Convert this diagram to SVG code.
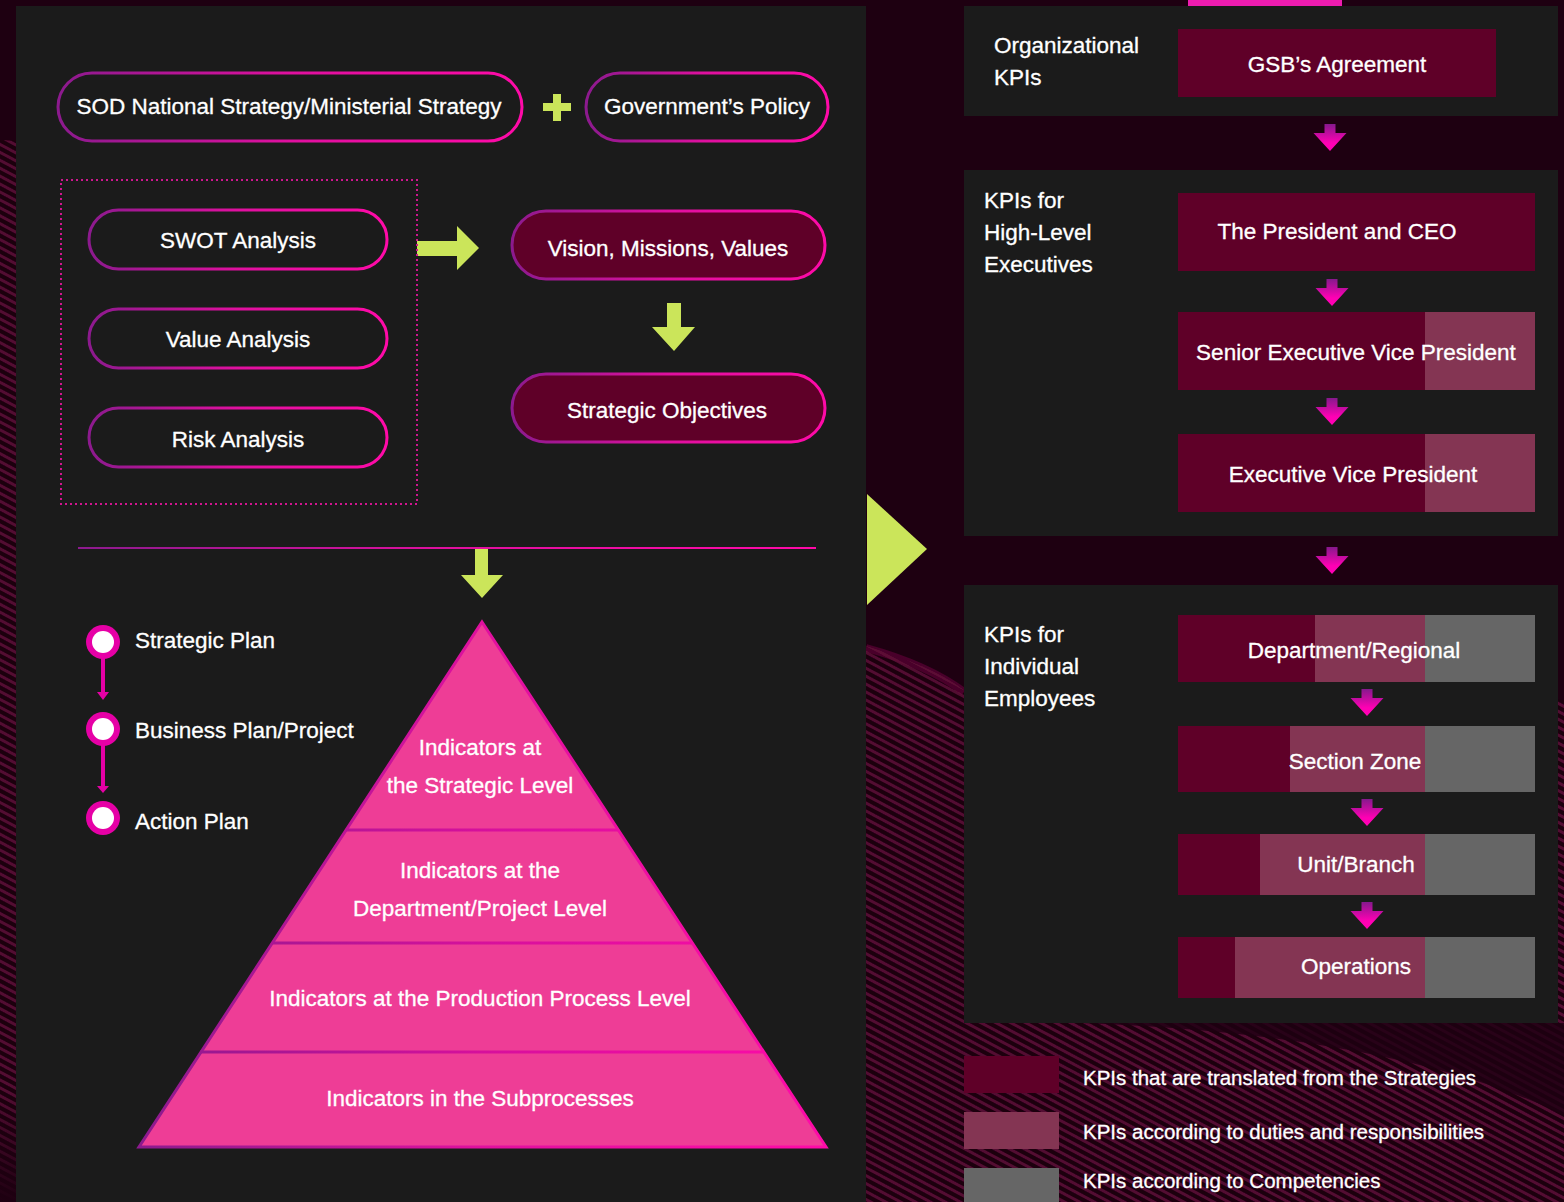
<svg xmlns="http://www.w3.org/2000/svg" width="1564" height="1202" viewBox="0 0 1564 1202">
  <defs>
    <linearGradient id="rim" x1="0" y1="0" x2="1" y2="0">
      <stop offset="0" stop-color="#8c1a8e"/>
      <stop offset="0.5" stop-color="#e0109f"/>
      <stop offset="1" stop-color="#ff0aa8"/>
    </linearGradient>
    <linearGradient id="rule" gradientUnits="userSpaceOnUse" x1="78" y1="0" x2="816" y2="0">
      <stop offset="0" stop-color="#8c1a8e"/>
      <stop offset="0.5" stop-color="#e0109f"/>
      <stop offset="1" stop-color="#ff0aa8"/>
    </linearGradient>
    <linearGradient id="tier" gradientUnits="userSpaceOnUse" x1="139" y1="0" x2="826" y2="0">
      <stop offset="0" stop-color="#8c1a8e"/>
      <stop offset="0.5" stop-color="#d6109c"/>
      <stop offset="1" stop-color="#ff0aa8"/>
    </linearGradient>
    <linearGradient id="drop" x1="0" y1="0" x2="0" y2="1">
      <stop offset="0" stop-color="#85198c"/>
      <stop offset="0.7" stop-color="#ff00b4"/>
    </linearGradient>
    <linearGradient id="fadeDown" x1="0" y1="0" x2="0" y2="1">
      <stop offset="0" stop-color="#1e0011" stop-opacity="0"/>
      <stop offset="1" stop-color="#1e0011" stop-opacity="1"/>
    </linearGradient>
    <pattern id="weave" patternUnits="userSpaceOnUse" width="7" height="7" patternTransform="rotate(28)">
      <rect width="7" height="7" fill="#1c0010"/>
      <rect width="7" height="3" fill="#520a30"/>
    </pattern>
    <filter id="soft" x="-2%" y="-2%" width="104%" height="104%">
      <feGaussianBlur stdDeviation="0.7"/>
    </filter>
    <path id="dropArrow" d="M-5.5,0 H5.5 V9 H16.5 L0,27 L-16.5,9 H-5.5 Z"/>
    <style>
      .txt { font-family: "Liberation Sans", Arial, sans-serif; font-size: 22.5px; fill: #ffffff; stroke: #ffffff; stroke-width: 0.3px; }
      .mid { text-anchor: middle; }
      .leg { font-size: 20.5px; }
      .pill { fill: #1b1b1b; stroke: url(#rim); stroke-width: 3; }
      .pill-dark { fill: #5f0028; stroke: url(#rim); stroke-width: 3; }
      .panel { fill: #1b1b1b; }
      .lime { fill: #cbe55a; }
      .red { fill: #5f0028; }
      .rose { fill: #843553; }
      .grey { fill: #666666; }
      .dot { fill: #e600a6; }
    </style>
  </defs>

  <!-- backdrop -->
  <rect width="1564" height="1202" fill="#1e0011"/>
  <g filter="url(#soft)">
    <path fill="url(#weave)" d="M0,140 C300,150 700,520 866,646 C910,660 940,672 964,690 L1564,700 L1564,1202 L0,1202 Z"/>
    <path d="M866,648 C910,660 940,674 964,692" fill="none" stroke="#66093b" stroke-width="8" opacity="0.6"/>
  </g>
  <rect x="0" y="1090" width="16" height="112" fill="url(#fadeDown)"/>
  <path d="M1080,1023 C1280,1030 1450,1060 1564,1115 L1564,1023 Z" fill="#1e0011" opacity="0.8"/>

  <!-- panels -->
  <rect class="panel" x="16" y="6" width="850" height="1196"/>
  <rect class="panel" x="964" y="6" width="594" height="110"/>
  <rect class="panel" x="964" y="170" width="594" height="366"/>
  <rect class="panel" x="964" y="585" width="594" height="438"/>
  <rect x="1188" y="0" width="154" height="6" fill="#ee1cb0"/>

  <!-- connectors -->
  <g id="connectors">
    <g id="plus" class="lime">
      <rect x="543" y="103" width="28" height="8"/>
      <rect x="553" y="94" width="8" height="27"/>
    </g>
    <polygon class="lime" points="417,241 457,241 457,226 479,248 457,270 457,256 417,256"/>
    <polygon class="lime" points="667,303 681,303 681,327 695,327 674,351 652,327 667,327"/>
    <line x1="78" y1="548" x2="816" y2="548" stroke="url(#rule)" stroke-width="2"/>
    <polygon class="lime" points="475,549 488,549 488,575 503,575 482,598 461,575 475,575"/>
    <polygon class="lime" points="867,494 927,549 867,605"/>
    <!-- timeline links -->
    <rect class="dot" x="101" y="656" width="4" height="36"/>
    <polygon class="dot" points="97,692 109,692 103,700"/>
    <rect class="dot" x="101" y="744" width="4" height="42"/>
    <polygon class="dot" points="97,786 109,786 103,793"/>
    <!-- KPI cascade arrows -->
    <use href="#dropArrow" fill="url(#drop)" x="1330" y="124"/>
    <use href="#dropArrow" fill="url(#drop)" x="1332" y="279"/>
    <use href="#dropArrow" fill="url(#drop)" x="1332" y="398"/>
    <use href="#dropArrow" fill="url(#drop)" x="1332" y="547"/>
    <use href="#dropArrow" fill="url(#drop)" x="1367" y="689"/>
    <use href="#dropArrow" fill="url(#drop)" x="1367" y="799"/>
    <use href="#dropArrow" fill="url(#drop)" x="1367" y="902"/>
  </g>

  <!-- strategy inputs -->
  <g id="sod-strategy">
    <rect class="pill" x="58" y="73" width="464" height="68" rx="34"/>
    <text class="txt mid" x="289" y="114">SOD National Strategy/Ministerial Strategy</text>
  </g>
  <g id="government-policy">
    <rect class="pill" x="586" y="73" width="242" height="68" rx="34"/>
    <text class="txt mid" x="707" y="114">Government’s Policy</text>
  </g>

  <g id="analysis-group">
    <rect x="61" y="180" width="356" height="324" fill="none" stroke="#d0168f" stroke-width="2" stroke-dasharray="2 3"/>
  </g>
  <g id="swot">
    <rect class="pill" x="89" y="210" width="298" height="59" rx="29.5"/>
    <text class="txt mid" x="238" y="248">SWOT Analysis</text>
  </g>
  <g id="value-analysis">
    <rect class="pill" x="89" y="309" width="298" height="59" rx="29.5"/>
    <text class="txt mid" x="238" y="347">Value Analysis</text>
  </g>
  <g id="risk-analysis">
    <rect class="pill" x="89" y="408" width="298" height="59" rx="29.5"/>
    <text class="txt mid" x="238" y="447">Risk Analysis</text>
  </g>

  <g id="vision">
    <rect class="pill-dark" x="512" y="211" width="313" height="68" rx="34"/>
    <text class="txt mid" x="668" y="256">Vision, Missions, Values</text>
  </g>
  <g id="strategic-objectives">
    <rect class="pill-dark" x="512" y="374" width="313" height="68" rx="34"/>
    <text class="txt mid" x="667" y="418">Strategic Objectives</text>
  </g>

  <!-- planning timeline -->
  <g id="strategic-plan">
    <circle class="dot" cx="103" cy="642" r="17"/>
    <circle cx="103" cy="642" r="11" fill="#ffffff"/>
    <text class="txt" x="135" y="648">Strategic Plan</text>
  </g>
  <g id="business-plan">
    <circle class="dot" cx="103" cy="729" r="17"/>
    <circle cx="103" cy="729" r="11" fill="#ffffff"/>
    <text class="txt" x="135" y="738">Business Plan/Project</text>
  </g>
  <g id="action-plan">
    <circle class="dot" cx="103" cy="818" r="17"/>
    <circle cx="103" cy="818" r="11" fill="#ffffff"/>
    <text class="txt" x="135" y="829">Action Plan</text>
  </g>

  <!-- indicator pyramid -->
  <g id="pyramid">
    <polygon points="482,622 826,1147 139,1147" fill="#ee3d96" stroke="url(#rim)" stroke-width="3" stroke-linejoin="miter"/>
    <line x1="346" y1="830" x2="618" y2="830" stroke="url(#tier)" stroke-width="3"/>
    <line x1="272" y1="943" x2="692" y2="943" stroke="url(#tier)" stroke-width="3"/>
    <line x1="200" y1="1052" x2="764" y2="1052" stroke="url(#tier)" stroke-width="3"/>
  </g>
  <g id="tier-strategic">
    <text class="txt mid" x="480" y="755">Indicators at</text>
    <text class="txt mid" x="480" y="793">the Strategic Level</text>
  </g>
  <g id="tier-department">
    <text class="txt mid" x="480" y="878">Indicators at the</text>
    <text class="txt mid" x="480" y="916">Department/Project Level</text>
  </g>
  <g id="tier-production">
    <text class="txt mid" x="480" y="1006">Indicators at the Production Process Level</text>
  </g>
  <g id="tier-subprocess">
    <text class="txt mid" x="480" y="1106">Indicators in the Subprocesses</text>
  </g>

  <!-- KPI cascade -->
  <g id="org-kpis">
    <text class="txt" x="994" y="53">Organizational</text>
    <text class="txt" x="994" y="85">KPIs</text>
  </g>
  <g id="gsb-agreement">
    <rect class="red" x="1178" y="29" width="318" height="68"/>
    <text class="txt mid" x="1337" y="72">GSB’s Agreement</text>
  </g>

  <g id="exec-kpis">
    <text class="txt" x="984" y="208">KPIs for</text>
    <text class="txt" x="984" y="240">High-Level</text>
    <text class="txt" x="984" y="272">Executives</text>
  </g>
  <g id="president-ceo">
    <rect class="red" x="1178" y="193" width="357" height="78"/>
    <text class="txt mid" x="1337" y="239">The President and CEO</text>
  </g>
  <g id="senior-evp">
    <rect class="red" x="1178" y="312" width="247" height="78"/>
    <rect class="rose" x="1425" y="312" width="110" height="78"/>
    <text class="txt mid" x="1356" y="360">Senior Executive Vice President</text>
  </g>
  <g id="evp">
    <rect class="red" x="1178" y="434" width="247" height="78"/>
    <rect class="rose" x="1425" y="434" width="110" height="78"/>
    <text class="txt mid" x="1353" y="482">Executive Vice President</text>
  </g>

  <g id="employee-kpis">
    <text class="txt" x="984" y="642">KPIs for</text>
    <text class="txt" x="984" y="674">Individual</text>
    <text class="txt" x="984" y="706">Employees</text>
  </g>
  <g id="department-regional">
    <rect class="red" x="1178" y="615" width="137" height="67"/>
    <rect class="rose" x="1315" y="615" width="110" height="67"/>
    <rect class="grey" x="1425" y="615" width="110" height="67"/>
    <text class="txt mid" x="1354" y="658">Department/Regional</text>
  </g>
  <g id="section-zone">
    <rect class="red" x="1178" y="726" width="112" height="66"/>
    <rect class="rose" x="1290" y="726" width="135" height="66"/>
    <rect class="grey" x="1425" y="726" width="110" height="66"/>
    <text class="txt mid" x="1355" y="769">Section Zone</text>
  </g>
  <g id="unit-branch">
    <rect class="red" x="1178" y="834" width="82" height="61"/>
    <rect class="rose" x="1260" y="834" width="165" height="61"/>
    <rect class="grey" x="1425" y="834" width="110" height="61"/>
    <text class="txt mid" x="1356" y="872">Unit/Branch</text>
  </g>
  <g id="operations">
    <rect class="red" x="1178" y="937" width="57" height="61"/>
    <rect class="rose" x="1235" y="937" width="190" height="61"/>
    <rect class="grey" x="1425" y="937" width="110" height="61"/>
    <text class="txt mid" x="1356" y="974">Operations</text>
  </g>

  <!-- legend -->
  <g id="legend">
    <rect class="red" x="964" y="1056" width="95" height="37"/>
    <text class="txt leg" x="1083" y="1085">KPIs that are translated from the Strategies</text>
    <rect class="rose" x="964" y="1112" width="95" height="37"/>
    <text class="txt leg" x="1083" y="1139">KPIs according to duties and responsibilities</text>
    <rect class="grey" x="964" y="1168" width="95" height="34"/>
    <text class="txt leg" x="1083" y="1188">KPIs according to Competencies</text>
  </g>
</svg>
